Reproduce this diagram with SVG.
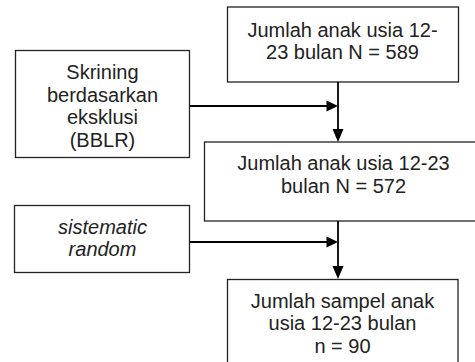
<svg xmlns="http://www.w3.org/2000/svg" width="475" height="362" viewBox="0 0 475 362">
<defs>
<style>
.box{fill:#fff;stroke:#222;stroke-width:1.3}
.t{font-family:"Liberation Sans",Arial,sans-serif;font-size:20px;fill:#222;text-anchor:middle}
.i{font-style:italic}
.c{stroke:#000;stroke-width:1.8;fill:none}
.h{fill:#000}
</style>
</defs>
<rect width="475" height="362" fill="#fff"/>
<g id="n1">
<rect class="box" x="227.5" y="7" width="231" height="75"/>
<text class="t" x="342.5" y="36.5">Jumlah anak usia 12-</text>
<text class="t" x="342.5" y="59">23 bulan N = 589</text>
</g>
<g id="n2">
<rect class="box" x="15.5" y="50.5" width="174" height="107"/>
<text class="t" x="102.5" y="79">Skrining</text>
<text class="t" x="102.5" y="101.5">berdasarkan</text>
<text class="t" x="102.5" y="124">eksklusi</text>
<text class="t" x="102.5" y="146.5">(BBLR)</text>
</g>
<g id="n3">
<rect class="box" x="204.5" y="142" width="278" height="79"/>
<text class="t" x="343.5" y="170">Jumlah anak usia 12-23</text>
<text class="t" x="343.5" y="192.5">bulan N = 572</text>
</g>
<g id="n4">
<rect class="box" x="14.5" y="205.5" width="175" height="67"/>
<text class="t i" x="102.5" y="233.5">sistematic</text>
<text class="t i" x="102.5" y="256">random</text>
</g>
<g id="n5">
<rect class="box" x="227.5" y="279.5" width="230.5" height="95"/>
<text class="t" x="342.5" y="307.5">Jumlah sampel anak</text>
<text class="t" x="342.5" y="330">usia 12-23 bulan</text>
<text class="t" x="342.5" y="352.5">n = 90</text>
</g>
<g id="connectors">
<path class="c" d="M338 82V130"/>
<path class="h" d="M332.5 129L343.5 129L338 142Z"/>
<path class="c" d="M189.5 106H327"/>
<path class="h" d="M326.5 100.5L338 106L326.5 111.5Z"/>
<path class="c" d="M338 221V267"/>
<path class="h" d="M332.5 266L343.5 266L338 279Z"/>
<path class="c" d="M189.5 242H327"/>
<path class="h" d="M326.5 236.5L338 242L326.5 247.5Z"/>
</g>
</svg>
